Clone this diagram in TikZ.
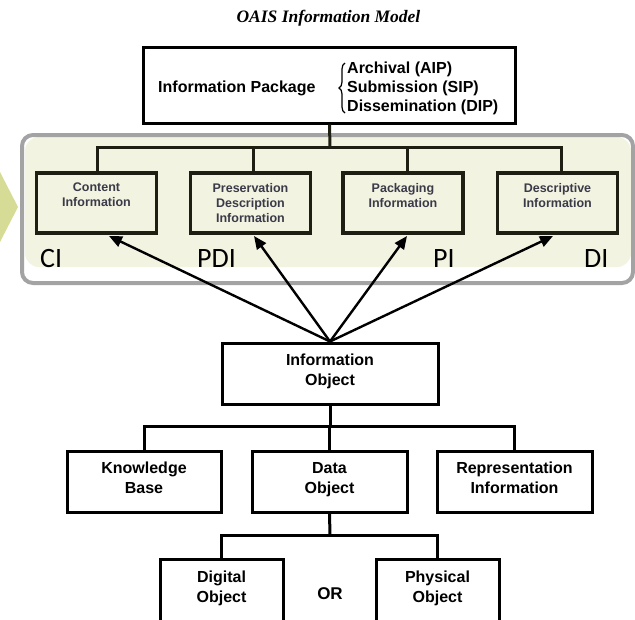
\documentclass[tikz,border=0pt]{standalone}
\usepackage{fontspec}
\setmainfont{Liberation Sans}
\newfontfamily\titlefont{Liberation Serif}
\newfontfamily\tagfont{Carlito}
\usetikzlibrary{arrows.meta,decorations.pathreplacing}

\definecolor{cream}{HTML}{F3F3E2}
\definecolor{framegray}{HTML}{A3A3A3}
\definecolor{chevron}{HTML}{D6DB95}
\definecolor{darkline}{HTML}{1E1E12}
\definecolor{smalltext}{HTML}{3A3A48}

\tikzset{
  bigbox/.style={draw=black, line width=3pt, fill=white, minimum width=#1, inner sep=0pt},
  subbox/.style={draw=darkline, line width=3.5pt, fill=cream, minimum width=120pt, minimum height=60pt, inner sep=0pt},
  link/.style={line width=3pt, draw=black},
  sublink/.style={line width=3pt, draw=darkline},
  pointer/.style={line width=2.4pt, draw=black, -{Triangle[length=13pt,width=11pt]}},
  boxtext/.style={font=\bfseries\fontsize{16}{20}\selectfont, align=center, inner sep=0pt, anchor=north},
  smalltxt/.style={font=\bfseries\fontsize{12.5}{15}\selectfont, text=smalltext, align=center, inner sep=0pt, anchor=north},
  tag/.style={font=\tagfont\fontsize{28}{30}\selectfont, inner sep=0pt, anchor=base west}
}

\begin{document}
\begin{tikzpicture}[x=1pt,y=-1pt]
\useasboundingbox (0,0) rectangle (635,619);
\clip (0,0) rectangle (635,619);

% title
\node[font=\titlefont\bfseries\itshape\fontsize{17.5}{20}\selectfont, anchor=base west] (title) at (233,22) {OAIS Information Model};

% information package
\node[bigbox=372pt, minimum height=76pt] (ip) at (329.5,85) {};
\node[boxtext, anchor=base west] (iptext) at (158,92) {Information Package};
\node[boxtext, anchor=north west, align=left, font=\bfseries\fontsize{16}{19}\selectfont] (ipkinds) at (347,61.5)
  {Archival (AIP)\\Submission (SIP)\\Dissemination (DIP)};
\coordinate (bracetop) at (345,63);
\coordinate (bracebot) at (345,113);
\draw[line width=1.2pt, decorate, decoration={brace, amplitude=6pt}] (bracebot) -- (bracetop);

% grouping frame and side chevron
\fill[cream, rounded corners=14pt] (25,137) rectangle (631,267);
\draw[framegray, line width=4pt, rounded corners=11pt] (22,135) rectangle (633,283);
\fill[chevron] (0,172) -- (18,207) -- (0,242) -- cycle;

% components of the package
\node[subbox] (ci)  at (96.5,203) {};
\node[subbox] (pdi) at (250.5,203) {};
\node[subbox] (pi)  at (403,203) {};
\node[subbox] (di)  at (557.5,203) {};

\node[smalltxt] (citext)  at (96.5,183) {Content\\Information};
\node[smalltxt] (pditext) at (250.5,183) {Preservation\\Description\\Information};
\node[smalltxt] (pitext)  at (403,183) {Packaging\\Information};
\node[smalltxt] (ditext)  at (557.5,183) {Descriptive\\Information};

\coordinate (bus) at (330,147);
\coordinate (busci)  at (97,147);
\coordinate (buspdi) at (253,147);
\coordinate (buspi)  at (407,147);
\coordinate (busdi)  at (561,147);
\draw[sublink] (ip.south) -- (bus);
\draw[sublink] (busci |- ci.north) -- (busci) -- (busdi) -- (busdi |- di.north);
\draw[sublink] (buspdi) -- (buspdi |- pdi.north);
\draw[sublink] (buspi) -- (buspi |- pi.north);

\node[tag] (citag)  at (40,267) {CI};
\node[tag] (pditag) at (197,267) {PDI};
\node[tag] (pitag)  at (433,267) {PI};
\node[tag] (ditag)  at (584,267) {DI};

% information object
\node[bigbox=216pt, minimum height=61pt] (io) at (330,373.5) {};
\node[boxtext] (iotext) at (330,354) {Information\\Object};

\coordinate (cihit)  at (109,236);
\coordinate (pdihit) at (254,236);
\coordinate (pihit)  at (407,236);
\coordinate (dihit)  at (553,236);
\draw[pointer] (io.north) -- (cihit);
\draw[pointer] (io.north) -- (pdihit);
\draw[pointer] (io.north) -- (pihit);
\draw[pointer] (io.north) -- (dihit);

% kinds of information object
\node[bigbox=154pt, minimum height=61pt] (kb) at (144,481.5) {};
\node[bigbox=155pt, minimum height=61pt] (do) at (329.5,481.5) {};
\node[bigbox=155pt, minimum height=61pt] (ri) at (514.5,481.5) {};
\node[boxtext] (kbtext) at (144,462) {Knowledge\\Base};
\node[boxtext] (dotext) at (329.5,462) {Data\\Object};
\node[boxtext] (ritext) at (514.5,462) {Representation\\Information};

\coordinate (bus2) at (330,426);
\draw[link] (io.south) -- (bus2);
\draw[link] (kb.north) |- (bus2) -| (ri.north);
\draw[link] (do.north) -- (do.north |- bus2);

% kinds of data object
\node[bigbox=123pt, minimum height=90pt, anchor=north] (dig) at (221.5,558) {};
\node[bigbox=123pt, minimum height=90pt, anchor=north] (phy) at (437.5,558) {};
\node[boxtext] (digtext) at (221.5,571) {Digital\\Object};
\node[boxtext] (phytext) at (437.5,571) {Physical\\Object};
\node[boxtext, anchor=base, font=\bfseries\fontsize{17}{20}\selectfont] (ortext) at (330,599) {OR};

\coordinate (bus3) at (330,535);
\draw[link] (do.south) -- (bus3);
\draw[link] (dig.north) |- (bus3) -| (phy.north);
\end{tikzpicture}
\end{document}
